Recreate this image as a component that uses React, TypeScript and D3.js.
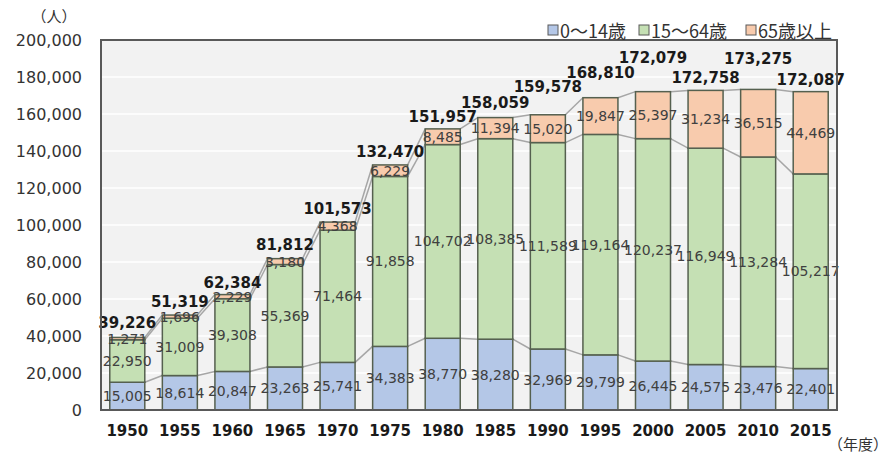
import React from 'react';
import * as d3 from 'd3';

const years = ['1950', '1955', '1960', '1965', '1970', '1975', '1980', '1985', '1990', '1995', '2000', '2005', '2010', '2015'];
const age0to14 = [15005, 18614, 20847, 23263, 25741, 34383, 38770, 38280, 32969, 29799, 26445, 24575, 23476, 22401];
const age15to64 = [22950, 31009, 39308, 55369, 71464, 91858, 104702, 108385, 111589, 119164, 120237, 116949, 113284, 105217];
const age65plus = [1271, 1696, 2229, 3180, 4368, 6229, 8485, 11394, 15020, 19847, 25397, 31234, 36515, 44469];
const totals = [39226, 51319, 62384, 81812, 101573, 132470, 151957, 158059, 159578, 168810, 172079, 172758, 173275, 172087];
const seriesNames = ['0～14歳', '15～64歳', '65歳以上'];
const seriesColors = ['#b4c7e7', '#c5e0b4', '#f8cbad'];
const yTicks = [0, 20000, 40000, 60000, 80000, 100000, 120000, 140000, 160000, 180000, 200000];

// how far each total label sits above its bar (px), staggered to avoid collisions
const totalLift = [14, 13, 12, 14, 13, 13, 12, 15, 28, 25, 34, 12, 30, 12];

const W = 890;
const H = 454;
const plot = { left: 101, right: 837, top: 40, bottom: 410 };
const numFont = '"DejaVu Sans", Verdana, sans-serif';
const jpFont = '"Noto Sans CJK JP", sans-serif';

export default function App() {
  const x = d3.scaleBand<string>().domain(years).range([plot.left, plot.right]).paddingInner(0.334).paddingOuter(0.167);
  const y = d3.scaleLinear().domain([0, 200000]).range([plot.bottom, plot.top]);
  const fmt = d3.format(',');

  const rows = years.map((yr, i) => ({ year: yr, a: age0to14[i], b: age15to64[i], c: age65plus[i] }));
  const stacked = d3.stack<any>().keys(['a', 'b', 'c'])(rows);
  const bw = x.bandwidth();

  // series lines between neighbouring bars
  const connectors: { x1: number; y1: number; x2: number; y2: number }[] = [];
  stacked.forEach(layer => {
    for (let i = 0; i < years.length - 1; i++) {
      connectors.push({
        x1: (x(years[i]) as number) + bw,
        y1: y(layer[i][1]),
        x2: x(years[i + 1]) as number,
        y2: y(layer[i + 1][1]),
      });
    }
  });

  const legendX = [560, 651, 758];

  return (
    <svg width={W} height={H} style={{ position: 'absolute', left: 0, top: 0, background: '#fff' }}>
      <rect x={plot.left} y={plot.top} width={plot.right - plot.left} height={plot.bottom - plot.top} fill="#f2f2f2" />
      {yTicks.slice(1, -1).map(t => (
        <line key={t} x1={plot.left} x2={plot.right} y1={y(t)} y2={y(t)} stroke="#ffffff" strokeWidth={1.5} />
      ))}
      {connectors.map((c, i) => (
        <line key={i} x1={c.x1} y1={c.y1} x2={c.x2} y2={c.y2} stroke="#a6a6a6" strokeWidth={1.5} />
      ))}
      {stacked.map((layer, li) => (
        <g key={li}>
          {layer.map((d, i) => (
            <rect
              key={i}
              x={x(years[i])}
              y={y(d[1])}
              width={bw}
              height={y(d[0]) - y(d[1])}
              fill={seriesColors[li]}
              stroke="#55604f"
              strokeWidth={1.5}
            />
          ))}
        </g>
      ))}
      {stacked.map((layer, li) => (
        <g key={'l' + li}>
          {layer.map((d, i) => (
            <text
              key={i}
              x={(x(years[i]) as number) + bw / 2}
              y={(y(d[0]) + y(d[1])) / 2}
              textAnchor="middle"
              dominantBaseline="central"
              fontFamily={numFont}
              fontSize={14}
              fill="#404040"
            >
              {fmt(d[1] - d[0])}
            </text>
          ))}
        </g>
      ))}
      {totals.map((t, i) => (
        <text
          key={i}
          x={(x(years[i]) as number) + bw / 2}
          y={y(t) - totalLift[i]}
          textAnchor="middle"
          dominantBaseline="central"
          fontFamily={numFont}
          fontSize={15}
          fontWeight="bold"
          fill="#1a1a1a"
        >
          {fmt(t)}
        </text>
      ))}
      <rect x={plot.left} y={plot.top} width={plot.right - plot.left} height={plot.bottom - plot.top} fill="none" stroke="#595959" strokeWidth={2} />
      {yTicks.map(t => (
        <text key={t} x={82} y={y(t)} textAnchor="end" dominantBaseline="central" fontFamily={numFont} fontSize={16} fill="#333">
          {fmt(t)}
        </text>
      ))}
      {years.map(yr => (
        <text key={yr} x={(x(yr) as number) + bw / 2} y={436} textAnchor="middle" fontFamily={numFont} fontSize={15} fontWeight="bold" fill="#1a1a1a">
          {yr}
        </text>
      ))}
      <text x={54} y={22} textAnchor="middle" fontFamily={jpFont} fontSize={15} fill="#333">（人）</text>
      <text x={858} y={450} textAnchor="middle" fontFamily={jpFont} fontSize={15} fill="#333">（年度）</text>
      {seriesNames.map((n, i) => (
        <g key={n}>
          <rect x={legendX[i] - 12} y={25} width={10} height={10} fill={seriesColors[i]} stroke="#595959" strokeWidth={1} />
          <text x={legendX[i]} y={30} dominantBaseline="central" fontFamily={jpFont} fontSize={18} fill="#333">
            {n}
          </text>
        </g>
      ))}
    </svg>
  );
}
